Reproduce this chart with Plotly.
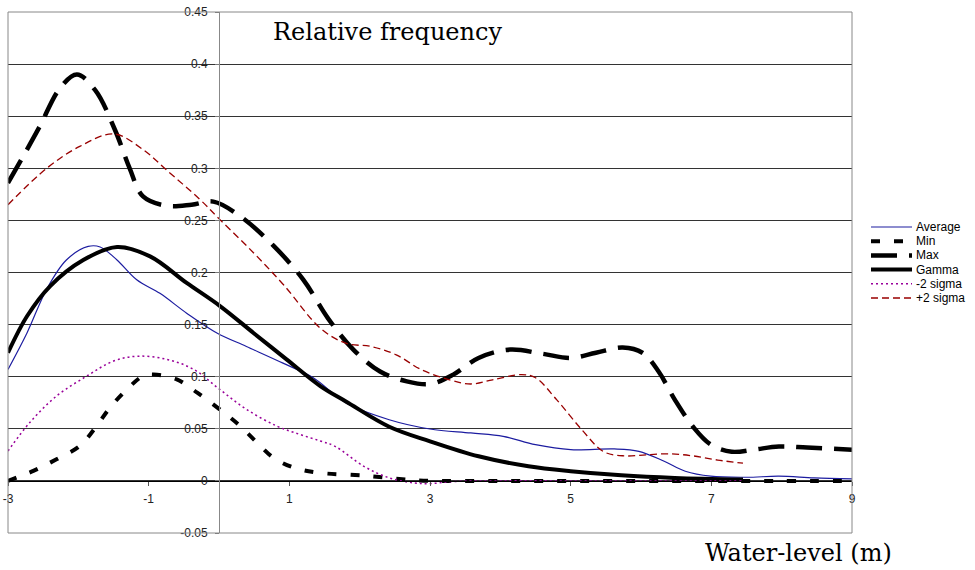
import plotly.graph_objects as go

# ---- data ----
avg_x = [-3, -2.73, -2.45, -2.17, -1.86, -1.69, -1.45, -1.17, -0.84, -0.46, -0.03, 0.39, 0.91, 1.34, 1.81, 2.42, 3.0, 3.58, 4.04, 4.5, 5.0, 5.62, 5.97, 6.33, 6.63, 6.99, 7.5, 7.96, 8.46, 9.0]
avg_y = [0.107, 0.142, 0.184, 0.212, 0.225, 0.2245, 0.212, 0.193, 0.180, 0.161, 0.142, 0.129, 0.113, 0.099, 0.0747, 0.0587, 0.0498, 0.046, 0.0428, 0.0348, 0.030, 0.0307, 0.0284, 0.0188, 0.0093, 0.0045, 0.0035, 0.0045, 0.0029, 0.0019]

min_x = [-3, -2.64, -2.31, -1.98, -1.74, -1.55, -1.31, -1.08, -0.93, -0.6, -0.31, 0.01, 0.30, 0.54, 0.77, 1.06, 1.39, 2.06, 2.67, 3.0, 4.0, 5.0, 6.0, 7.0, 8.0, 9.0]
min_y = [0.0, 0.0096, 0.0208, 0.0335, 0.0527, 0.0703, 0.0878, 0.1006, 0.102, 0.0974, 0.0847, 0.0687, 0.0527, 0.0368, 0.0224, 0.0128, 0.008, 0.0051, 0.0013, 0.0, 0.0, 0.0, 0.0, 0.0, 0.0, 0.0]

max_x = [-3, -2.73, -2.55, -2.26, -2.02, -1.76, -1.48, -1.27, -1.08, -0.74, -0.39, -0.08, 0.30, 0.77, 1.2, 1.55, 1.91, 2.29, 2.67, 3.0, 3.33, 3.69, 4.14, 4.6, 5.0, 5.36, 5.74, 6.02, 6.25, 6.48, 6.74, 6.99, 7.29, 7.6, 7.96, 8.36, 9.0]
max_y = [0.286, 0.318, 0.340, 0.377, 0.390, 0.375, 0.337, 0.300, 0.273, 0.264, 0.265, 0.268, 0.254, 0.226, 0.193, 0.156, 0.126, 0.105, 0.0955, 0.093, 0.102, 0.118, 0.126, 0.122, 0.118, 0.123, 0.128, 0.123, 0.105, 0.078, 0.052, 0.035, 0.028, 0.030, 0.033, 0.032, 0.030]

gam_x = [-3, -2.73, -2.40, -1.93, -1.45, -0.98, -0.46, 0.01, 0.49, 0.96, 1.44, 1.81, 2.42, 3.0, 3.69, 4.4, 5.0, 5.72, 6.48, 7.45]
gam_y = [0.123, 0.158, 0.187, 0.212, 0.2245, 0.2155, 0.190, 0.168, 0.142, 0.1166, 0.091, 0.076, 0.052, 0.038, 0.0236, 0.014, 0.0093, 0.0054, 0.0029, 0.0013]

m2s_x = [-3, -2.69, -2.31, -1.88, -1.50, -1.15, -0.74, -0.36, 0.01, 0.39, 0.82, 1.15, 1.44, 1.65, 2.06, 2.42, 2.77, 3.0, 3.33, 4.0, 5.0, 6.0, 7.0, 7.45]
m2s_y = [0.0287, 0.056, 0.0814, 0.1006, 0.115, 0.1197, 0.1166, 0.107, 0.0878, 0.0687, 0.0527, 0.0446, 0.0383, 0.0332, 0.014, 0.0029, -0.0019, -0.0026, -0.0006, 0.0, 0.0, 0.0, 0.0, 0.0]

p2s_x = [-3, -2.45, -1.98, -1.5, -1.08, -0.74, -0.27, 0.01, 0.49, 0.92, 1.45, 1.81, 2.16, 2.52, 2.87, 3.28, 3.58, 3.89, 4.3, 4.5, 4.8, 5.16, 5.47, 5.77, 6.07, 6.38, 6.74, 7.09, 7.45]
p2s_y = [0.265, 0.300, 0.321, 0.333, 0.318, 0.298, 0.270, 0.251, 0.219, 0.188, 0.146, 0.132, 0.129, 0.121, 0.107, 0.097, 0.093, 0.097, 0.102, 0.099, 0.078, 0.049, 0.028, 0.024, 0.025, 0.026, 0.024, 0.020, 0.017]

x_tick_vals = [-3, -1, 1, 3, 5, 7, 9]
x_tick_labels = ["-3", "-1", "1", "3", "5", "7", "9"]
y_tick_vals = [-0.05, 0, 0.05, 0.1, 0.15, 0.2, 0.25, 0.3, 0.35, 0.4, 0.45]
y_tick_labels = ["-0.05", "0", "0.05", "0.1", "0.15", "0.2", "0.25", "0.3", "0.35", "0.4", "0.45"]

series_names = ["Average", "Min", "Max", "Gamma", "-2 sigma", "+2 sigma"]
title_text = "Relative frequency"
xlabel_text = "Water-level (m)"

# styles
styles = [
    dict(color="#1c1ca0", width=1.2, dash="solid"),
    dict(color="black", width=4, dash="9px,14px"),
    dict(color="black", width=4.5, dash="26px,12px"),
    dict(color="black", width=4, dash="solid"),
    dict(color="#990099", width=1.5, dash="2px,3px"),
    dict(color="#990000", width=1.3, dash="7px,4px"),
]
series = [(avg_x, avg_y), (min_x, min_y), (max_x, max_y),
          (gam_x, gam_y), (m2s_x, m2s_y), (p2s_x, p2s_y)]

fig = go.Figure()
for (sx, sy), name, st in zip(series, series_names, styles):
    fig.add_trace(go.Scatter(x=sx, y=sy, name=name, mode="lines", showlegend=False,
                             line=dict(shape="spline", smoothing=1.0, **st)))

serif = "DejaVu Serif, Liberation Serif, serif"
sans = "Liberation Sans, Arial, sans-serif"

W, H = 975, 570
ML, MR, MT, MB = 8, 123, 12, 37
PW, PH = W - ML - MR, H - MT - MB

def px2paper_x(px):
    return (px - ML) / PW

def px2paper_y(py):
    return (H - MB - py) / PH

shapes = [dict(type="rect", xref="paper", yref="paper", x0=0, y0=0, x1=1, y1=1,
               line=dict(color="#888", width=1), layer="above")]
annotations = [
    dict(text=title_text, xref="paper", yref="paper", x=px2paper_x(271), y=px2paper_y(32),
         xanchor="left", yanchor="middle", showarrow=False,
         font=dict(family=serif, size=24, color="black")),
    dict(text=xlabel_text, xref="paper", yref="paper", x=px2paper_x(894), y=px2paper_y(553),
         xanchor="right", yanchor="middle", showarrow=False,
         font=dict(family=serif, size=24, color="black")),
]

# manual legend (compact, like the original)
leg_top = 227
leg_step = 14.2
for i, (name, st) in enumerate(zip(series_names, styles)):
    yy = px2paper_y(leg_top + i * leg_step)
    shapes.append(dict(type="line", xref="paper", yref="paper",
                       x0=px2paper_x(871), x1=px2paper_x(912), y0=yy, y1=yy,
                       line=dict(color=st["color"], width=st["width"], dash=st["dash"])))
    annotations.append(dict(text=name, xref="paper", yref="paper",
                            x=px2paper_x(914), y=yy, xanchor="left", yanchor="middle",
                            showarrow=False, font=dict(family=sans, size=12, color="black")))

fig.update_layout(
    width=W, height=H,
    margin=dict(l=ML, r=MR, t=MT, b=MB, pad=0, autoexpand=False),
    paper_bgcolor="white", plot_bgcolor="white",
    showlegend=False,
    xaxis=dict(range=[-3, 9], domain=[0, 1], anchor="free", position=0.1,
               tickvals=x_tick_vals, ticktext=x_tick_labels,
               ticks="outside", ticklen=4, tickcolor="#555",
               ticklabelstandoff=3,
               showline=True, linecolor="black", linewidth=1,
               showgrid=False, zeroline=False, automargin=False,
               tickfont=dict(family=sans, size=12, color="#222")),
    yaxis=dict(range=[-0.05, 0.45], domain=[0, 1], anchor="free", position=0.25,
               tickvals=y_tick_vals, ticktext=y_tick_labels,
               ticks="outside", ticklen=4, tickcolor="#777",
               ticklabelstandoff=5,
               showline=True, linecolor="#888", linewidth=1,
               showgrid=True, gridcolor="#333", gridwidth=1, zeroline=False,
               automargin=False,
               tickfont=dict(family=sans, size=12, color="#222")),
    shapes=shapes,
    annotations=annotations,
)

fig.write_html("out.html")
